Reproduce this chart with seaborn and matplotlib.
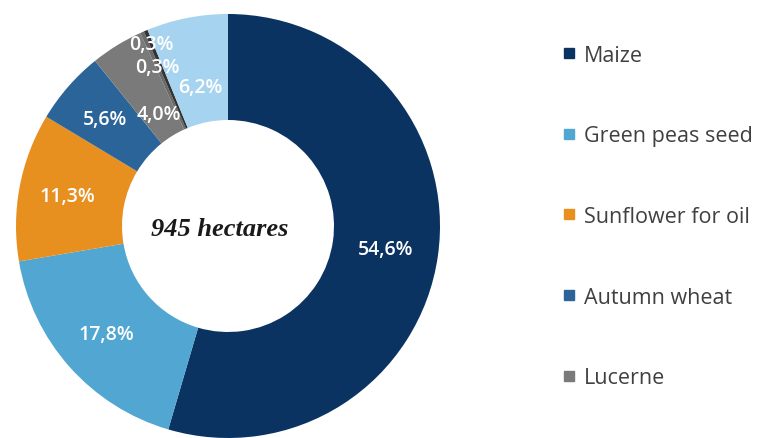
import matplotlib
matplotlib.use("Agg")
import matplotlib.pyplot as plt
from matplotlib.lines import Line2D
import numpy as np
import seaborn as sns

# Crop shares of the 945 ha farm (percent), drawn clockwise from 12 o'clock
crops = ["Maize", "Green peas seed", "Sunflower for oil", "Autumn wheat",
         "Lucerne", "Other crop A", "Other crop B", "Other crop C"]
shares = [54.6, 17.8, 11.3, 5.6, 4.0, 0.3, 0.3, 6.2]
share_labels = ["54,6%", "17,8%", "11,3%", "5,6%", "4,0%", "0,3%", "0,3%", "6,2%"]
legend_crops = crops[:5]
center_text = "945 hectares"

colors = ["#0b3362", "#52a6d2", "#e8901f", "#2b6499",
          "#7a7a7a", "#6a6a6a", "#333333", "#a6d3ef"]
# radial position of each percentage label (fraction of outer radius)
label_radius = [0.75, 0.77, 0.77, 0.77, 0.62, 0.82, 0.93, 0.67]

sns.set_theme(style="white")
plt.rcParams["font.family"] = ["Open Sans", "DejaVu Sans"]

W, H = 769, 439
fig = plt.figure(figsize=(W / 100, H / 100), dpi=100)
fig.patch.set_facecolor("white")

cx, cy, R = 228, 227, 212
ax = fig.add_axes([(cx - R) / W, (H - cy - R) / H, 2 * R / W, 2 * R / H])
ax.axis("off")

wedges, _ = ax.pie(shares, colors=colors, startangle=90, counterclock=False,
                   radius=1.0, wedgeprops=dict(width=0.5, linewidth=0))
ax.set_xlim(-1, 1)
ax.set_ylim(-1, 1)

for w, lab, rr in zip(wedges, share_labels, label_radius):
    mid = np.deg2rad((w.theta1 + w.theta2) / 2)
    ax.text(rr * np.cos(mid), rr * np.sin(mid), lab, ha="center", va="center",
            color="white", fontsize=14, fontweight="semibold")

ax.text(-0.04, -0.01, center_text, ha="center", va="center",
        family="Liberation Serif", fontstyle="italic", fontweight="bold",
        fontsize=19, color="#1a1a1a")

handles = [Line2D([], [], marker="s", linestyle="none", markersize=7.5,
                  markerfacecolor=c, markeredgecolor=c)
           for c in colors[:5]]
fig.legend(handles, legend_crops, loc="upper left",
           bbox_to_anchor=(551 / W, 1 - 35 / H), frameon=False,
           fontsize=15.5, labelspacing=2.77, handlelength=0.7,
           handletextpad=0.35, borderpad=0, labelcolor="#404040")

fig.savefig("out.png", dpi=100, facecolor="white")
